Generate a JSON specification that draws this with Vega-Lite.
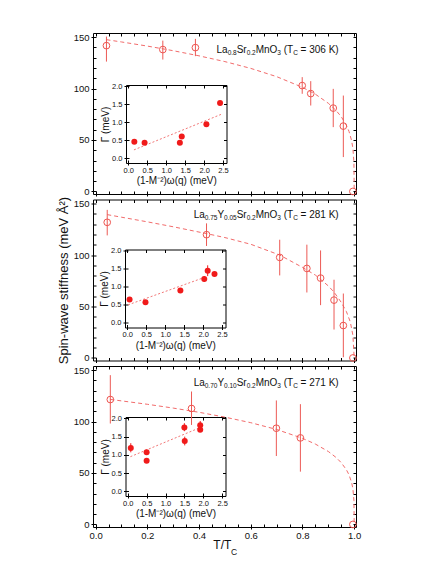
{
  "$schema": "https://vega.github.io/schema/vega-lite/v6.json",
  "padding": {"left": 57, "top": 29, "right": 10, "bottom": 2},
  "spacing": 5.5,
  "bounds": "flush",
  "config": {
    "view": {"stroke": null},
    "axis": {"grid": false, "domainColor": "#000", "tickColor": "#000", "labelColor": "#111", "titleColor": "#111", "labelFont": "Liberation Sans", "titleFont": "Liberation Sans", "titleFontWeight": "normal", "labelFontSize": 9.5, "minExtent": 0, "labelFlush": false, "domainWidth": 1, "tickWidth": 1},
    "text": {"font": "Liberation Sans"}
  },
  "datasets": {
    "main": [
      {"panel": "a", "t": 0.042, "D": 141.7, "lo": 126.2, "hi": 150.5},
      {"panel": "a", "t": 0.26, "D": 137.9, "lo": 128.2, "hi": 146.6},
      {"panel": "a", "t": 0.386, "D": 139.8, "lo": 131.5, "hi": 148.3},
      {"panel": "a", "t": 0.799, "D": 102.9, "lo": 94.9, "hi": 111.1},
      {"panel": "a", "t": 0.832, "D": 95.1, "lo": 83.5, "hi": 107.2},
      {"panel": "a", "t": 0.919, "D": 81.0, "lo": 62.5, "hi": 99.7},
      {"panel": "a", "t": 0.958, "D": 63.5, "lo": 33.4, "hi": 93.2},
      {"panel": "a", "t": 0.995, "D": 0, "lo": null, "hi": null},
      {"panel": "b", "t": 0.045, "D": 131.8, "lo": 119.1, "hi": 143.9},
      {"panel": "b", "t": 0.429, "D": 119.8, "lo": 108.8, "hi": 130.8},
      {"panel": "b", "t": 0.712, "D": 97.7, "lo": 80.2, "hi": 114.9},
      {"panel": "b", "t": 0.817, "D": 87.0, "lo": 63.6, "hi": 110.1},
      {"panel": "b", "t": 0.87, "D": 77.6, "lo": 51.3, "hi": 104.5},
      {"panel": "b", "t": 0.922, "D": 56.2, "lo": 27.6, "hi": 76.0},
      {"panel": "b", "t": 0.958, "D": 31.5, "lo": 0.7, "hi": 62.6},
      {"panel": "b", "t": 0.995, "D": 0, "lo": null, "hi": null},
      {"panel": "c", "t": 0.057, "D": 121.4, "lo": 98.1, "hi": 145.1},
      {"panel": "c", "t": 0.371, "D": 112.7, "lo": 96.7, "hi": 129.2},
      {"panel": "c", "t": 0.699, "D": 93.5, "lo": 66.5, "hi": 120.5},
      {"panel": "c", "t": 0.792, "D": 84.1, "lo": 51.3, "hi": 116.9},
      {"panel": "c", "t": 0.995, "D": 0, "lo": null, "hi": null}
    ],
    "fit": [
      {"panel": "a", "t": 0.042, "D": 147.5}, {"panel": "a", "t": 0.1, "D": 145.3}, {"panel": "a", "t": 0.2, "D": 141.3},
      {"panel": "a", "t": 0.3, "D": 136.8}, {"panel": "a", "t": 0.4, "D": 131.8}, {"panel": "a", "t": 0.5, "D": 126.2},
      {"panel": "a", "t": 0.6, "D": 119.6}, {"panel": "a", "t": 0.7, "D": 111.6}, {"panel": "a", "t": 0.8, "D": 101.2},
      {"panel": "a", "t": 0.85, "D": 94.5}, {"panel": "a", "t": 0.9, "D": 85.7}, {"panel": "a", "t": 0.93, "D": 78.7},
      {"panel": "a", "t": 0.95, "D": 72.6}, {"panel": "a", "t": 0.97, "D": 64.3}, {"panel": "a", "t": 0.98, "D": 58.3},
      {"panel": "a", "t": 0.99, "D": 49.4}, {"panel": "a", "t": 0.995, "D": 41.8}, {"panel": "a", "t": 0.999, "D": 28.4},
      {"panel": "a", "t": 1.0, "D": 0},
      {"panel": "b", "t": 0.045, "D": 139.3}, {"panel": "b", "t": 0.1, "D": 136.8}, {"panel": "b", "t": 0.2, "D": 132.3},
      {"panel": "b", "t": 0.3, "D": 127.5}, {"panel": "b", "t": 0.43, "D": 120.8}, {"panel": "b", "t": 0.5, "D": 117.0},
      {"panel": "b", "t": 0.6, "D": 110.5}, {"panel": "b", "t": 0.712, "D": 100.0}, {"panel": "b", "t": 0.8, "D": 88.0},
      {"panel": "b", "t": 0.85, "D": 80.5}, {"panel": "b", "t": 0.9, "D": 70.0}, {"panel": "b", "t": 0.922, "D": 64.0},
      {"panel": "b", "t": 0.95, "D": 54.0}, {"panel": "b", "t": 0.97, "D": 45.0}, {"panel": "b", "t": 0.985, "D": 35.0},
      {"panel": "b", "t": 0.995, "D": 22.0}, {"panel": "b", "t": 1.0, "D": 0},
      {"panel": "c", "t": 0.057, "D": 121.5}, {"panel": "c", "t": 0.1, "D": 120.1}, {"panel": "c", "t": 0.2, "D": 116.8},
      {"panel": "c", "t": 0.3, "D": 113.1}, {"panel": "c", "t": 0.4, "D": 109.0}, {"panel": "c", "t": 0.5, "D": 104.3},
      {"panel": "c", "t": 0.6, "D": 98.9}, {"panel": "c", "t": 0.7, "D": 92.3}, {"panel": "c", "t": 0.8, "D": 83.7},
      {"panel": "c", "t": 0.85, "D": 78.1}, {"panel": "c", "t": 0.9, "D": 70.9}, {"panel": "c", "t": 0.93, "D": 65.1},
      {"panel": "c", "t": 0.95, "D": 60.0}, {"panel": "c", "t": 0.97, "D": 53.1}, {"panel": "c", "t": 0.98, "D": 48.2},
      {"panel": "c", "t": 0.99, "D": 40.8}, {"panel": "c", "t": 0.995, "D": 34.6}, {"panel": "c", "t": 0.999, "D": 23.5},
      {"panel": "c", "t": 1.0, "D": 0}
    ],
    "inset": [
      {"panel": "a", "e": 0.16, "g": 0.46, "lo": null, "hi": null},
      {"panel": "a", "e": 0.43, "g": 0.43, "lo": 0.38, "hi": 0.49},
      {"panel": "a", "e": 1.36, "g": 0.43, "lo": null, "hi": null},
      {"panel": "a", "e": 1.41, "g": 0.61, "lo": null, "hi": null},
      {"panel": "a", "e": 2.06, "g": 0.95, "lo": null, "hi": null},
      {"panel": "a", "e": 2.42, "g": 1.54, "lo": null, "hi": null},
      {"panel": "b", "e": 0.06, "g": 0.65, "lo": null, "hi": null},
      {"panel": "b", "e": 0.48, "g": 0.57, "lo": null, "hi": null},
      {"panel": "b", "e": 1.4, "g": 0.9, "lo": null, "hi": null},
      {"panel": "b", "e": 2.03, "g": 1.22, "lo": 1.14, "hi": 1.3},
      {"panel": "b", "e": 2.12, "g": 1.45, "lo": 1.3, "hi": 1.6},
      {"panel": "b", "e": 2.3, "g": 1.36, "lo": null, "hi": null},
      {"panel": "c", "e": 0.08, "g": 1.19, "lo": 1.07, "hi": 1.32},
      {"panel": "c", "e": 0.5, "g": 1.07, "lo": null, "hi": null},
      {"panel": "c", "e": 0.5, "g": 0.84, "lo": null, "hi": null},
      {"panel": "c", "e": 1.5, "g": 1.75, "lo": 1.65, "hi": 1.87},
      {"panel": "c", "e": 1.51, "g": 1.38, "lo": 1.26, "hi": 1.5},
      {"panel": "c", "e": 1.92, "g": 1.81, "lo": 1.7, "hi": 1.93},
      {"panel": "c", "e": 1.92, "g": 1.69, "lo": null, "hi": null}
    ],
    "ifit": [
      {"panel": "a", "e": 0.15, "g": 0.235}, {"panel": "a", "e": 2.45, "g": 1.224},
      {"panel": "b", "e": 0.02, "g": 0.5}, {"panel": "b", "e": 2.08, "g": 1.28},
      {"panel": "c", "e": 0.07, "g": 0.95}, {"panel": "c", "e": 1.92, "g": 1.75}
    ],
    "lab": [
      {"panel": "a", "kind": "main", "x": 0.4678, "y": 137, "s": "La"},
      {"panel": "a", "kind": "sub", "x": 0.5107, "y": 137, "s": "0.8"},
      {"panel": "a", "kind": "main", "x": 0.5456, "y": 137, "s": "Sr"},
      {"panel": "a", "kind": "sub", "x": 0.5842, "y": 137, "s": "0.2"},
      {"panel": "a", "kind": "main", "x": 0.6192, "y": 137, "s": "MnO"},
      {"panel": "a", "kind": "sub", "x": 0.7028, "y": 137, "s": "3"},
      {"panel": "a", "kind": "main", "x": 0.7275, "y": 137, "s": "(T"},
      {"panel": "a", "kind": "sub", "x": 0.7639, "y": 137, "s": "C"},
      {"panel": "a", "kind": "main", "x": 0.7928, "y": 137, "s": "= 306 K)"},
      {"panel": "b", "kind": "main", "x": 0.3792, "y": 138.5, "s": "La"},
      {"panel": "b", "kind": "sub", "x": 0.4221, "y": 138.5, "s": "0.75"},
      {"panel": "b", "kind": "main", "x": 0.471, "y": 138.5, "s": "Y"},
      {"panel": "b", "kind": "sub", "x": 0.4967, "y": 138.5, "s": "0.05"},
      {"panel": "b", "kind": "main", "x": 0.5456, "y": 138.5, "s": "Sr"},
      {"panel": "b", "kind": "sub", "x": 0.5842, "y": 138.5, "s": "0.2"},
      {"panel": "b", "kind": "main", "x": 0.6191, "y": 138.5, "s": "MnO"},
      {"panel": "b", "kind": "sub", "x": 0.7027, "y": 138.5, "s": "3"},
      {"panel": "b", "kind": "main", "x": 0.7274, "y": 138.5, "s": "(T"},
      {"panel": "b", "kind": "sub", "x": 0.7639, "y": 138.5, "s": "C"},
      {"panel": "b", "kind": "main", "x": 0.7927, "y": 138.5, "s": "= 281 K)"},
      {"panel": "c", "kind": "main", "x": 0.3792, "y": 137, "s": "La"},
      {"panel": "c", "kind": "sub", "x": 0.4221, "y": 137, "s": "0.70"},
      {"panel": "c", "kind": "main", "x": 0.471, "y": 137, "s": "Y"},
      {"panel": "c", "kind": "sub", "x": 0.4967, "y": 137, "s": "0.10"},
      {"panel": "c", "kind": "main", "x": 0.5456, "y": 137, "s": "Sr"},
      {"panel": "c", "kind": "sub", "x": 0.5842, "y": 137, "s": "0.2"},
      {"panel": "c", "kind": "main", "x": 0.6191, "y": 137, "s": "MnO"},
      {"panel": "c", "kind": "sub", "x": 0.7027, "y": 137, "s": "3"},
      {"panel": "c", "kind": "main", "x": 0.7274, "y": 137, "s": "(T"},
      {"panel": "c", "kind": "sub", "x": 0.7639, "y": 137, "s": "C"},
      {"panel": "c", "kind": "main", "x": 0.7927, "y": 137, "s": "= 271 K)"},
      {"panel": "c", "kind": "xsub", "x": 0.524, "y": -27, "s": "C"}
    ]
  },
  "vconcat": [
    {
      "width": 263, "height": 161,
      "resolve": {"scale": {"x": "independent", "y": "independent"}, "axis": {"x": "independent", "y": "independent"}},
      "layer": [
        {"data": {"name": "fit"}, "transform": [{"filter": "datum.panel == 'a'"}],
         "mark": {"type": "line", "color": "#f26b6b", "strokeWidth": 1, "strokeDash": [4, 3]},
         "encoding": {
           "x": {"field": "t", "type": "quantitative", "scale": {"domain": [-0.01, 1.007], "nice": false, "zero": false},
                 "axis": {"orient": "bottom", "values": [0, 0.2, 0.4, 0.6, 0.8, 1], "labels": false, "tickSize": 2, "title": null}},
           "y": {"field": "D", "type": "quantitative", "scale": {"domain": [-2.5, 154], "nice": false, "zero": false},
                 "axis": {"orient": "left", "values": [0, 50, 100, 150], "tickSize": 2, "labelPadding": 2, "title": "Spin-wave stiffness (meV Å²)", "titleFontSize": 13, "titlePadding": 3, "titleOpacity": 0}}
         }},
        {"data": {"name": "main"}, "transform": [{"filter": "datum.panel == 'a'"}],
         "mark": {"type": "rule", "color": "#ec5a55", "strokeWidth": 1},
         "encoding": {
           "x": {"field": "t", "type": "quantitative", "scale": {"domain": [-0.01, 1.007], "nice": false, "zero": false},
                 "axis": {"orient": "bottom", "values": [0, 0.05, 0.1, 0.15, 0.2, 0.25, 0.3, 0.35, 0.4, 0.45, 0.5, 0.55, 0.6, 0.65, 0.7, 0.75, 0.8, 0.85, 0.9, 0.95, 1], "tickSize": -3, "labels": false, "domain": false, "title": null}},
           "y": {"field": "lo", "type": "quantitative", "scale": {"domain": [-2.5, 154], "nice": false, "zero": false},
                 "axis": {"orient": "left", "values": [0, 10, 20, 30, 40, 50, 60, 70, 80, 90, 100, 110, 120, 130, 140, 150], "tickSize": -3, "labels": false, "domain": false, "title": null}},
           "y2": {"field": "hi"}
         }},
        {"data": {"name": "main"}, "transform": [{"filter": "datum.panel == 'a'"}],
         "mark": {"type": "point", "shape": "circle", "filled": false, "color": "#ee5550", "size": 45, "strokeWidth": 1, "opacity": 1},
         "encoding": {
           "x": {"field": "t", "type": "quantitative", "scale": {"domain": [-0.01, 1.007], "nice": false, "zero": false},
                 "axis": {"orient": "top", "values": [0, 0.05, 0.1, 0.15, 0.2, 0.25, 0.3, 0.35, 0.4, 0.45, 0.5, 0.55, 0.6, 0.65, 0.7, 0.75, 0.8, 0.85, 0.9, 0.95, 1], "tickSize": -3, "labels": false, "title": null}},
           "y": {"field": "D", "type": "quantitative", "scale": {"domain": [-2.5, 154], "nice": false, "zero": false},
                 "axis": {"orient": "right", "values": [0, 10, 20, 30, 40, 50, 60, 70, 80, 90, 100, 110, 120, 130, 140, 150], "tickSize": -3, "labels": false, "title": null}}
         }},
        {"data": {"name": "lab"}, "transform": [{"filter": "datum.panel == 'a' && datum.kind == 'main'"}],
         "mark": {"type": "text", "align": "left", "baseline": "middle", "fontSize": 10, "color": "#111"},
         "encoding": {
           "x": {"field": "x", "type": "quantitative", "scale": {"domain": [-0.01, 1.007], "nice": false, "zero": false}, "axis": null},
           "y": {"field": "y", "type": "quantitative", "scale": {"domain": [-2.5, 154], "nice": false, "zero": false}, "axis": null},
           "text": {"field": "s"}
         }},
        {"data": {"name": "lab"}, "transform": [{"filter": "datum.panel == 'a' && datum.kind == 'sub'"}],
         "mark": {"type": "text", "align": "left", "baseline": "middle", "fontSize": 6.5, "dy": 3, "color": "#111"},
         "encoding": {
           "x": {"field": "x", "type": "quantitative", "scale": {"domain": [-0.01, 1.007], "nice": false, "zero": false}, "axis": null},
           "y": {"field": "y", "type": "quantitative", "scale": {"domain": [-2.5, 154], "nice": false, "zero": false}, "axis": null},
           "text": {"field": "s"}
         }},
        {"data": {"name": "ifit"}, "transform": [{"filter": "datum.panel == 'a'"}],
         "mark": {"type": "line", "color": "#f27777", "strokeWidth": 1, "strokeDash": [2, 2]},
         "encoding": {
           "x": {"field": "e", "type": "quantitative", "scale": {"domain": [-0.06, 2.59], "range": [33, 133.5], "nice": false, "zero": false},
                 "axis": {"orient": "bottom", "offset": -31, "values": [0, 0.5, 1, 1.5, 2, 2.5], "format": ".1f", "tickSize": 2, "labelPadding": 1, "labelFontSize": 7.5, "title": "(1-M⁻²)ω(q) (meV)", "titleFontSize": 10, "titlePadding": 2}},
           "y": {"field": "g", "type": "quantitative", "scale": {"domain": [-0.13, 2.04], "range": [130, 52], "nice": false, "zero": false},
                 "axis": {"orient": "left", "offset": -33, "values": [0, 0.5, 1, 1.5, 2], "format": ".1f", "tickSize": 2, "labelPadding": 2, "labelFontSize": 7.5, "title": "Γ (meV)", "titleFontSize": 10, "titlePadding": 1}}
         }},
        {"data": {"name": "inset"}, "transform": [{"filter": "datum.panel == 'a'"}],
         "mark": {"type": "rule", "color": "#f01a1a", "strokeWidth": 1},
         "encoding": {
           "x": {"field": "e", "type": "quantitative", "scale": {"domain": [-0.06, 2.59], "range": [33, 133.5], "nice": false, "zero": false},
                 "axis": {"orient": "bottom", "offset": -31, "values": [0, 0.5, 1, 1.5, 2, 2.5], "tickSize": -3, "labels": false, "domain": false, "title": null}},
           "y": {"field": "lo", "type": "quantitative", "scale": {"domain": [-0.13, 2.04], "range": [130, 52], "nice": false, "zero": false},
                 "axis": {"orient": "left", "offset": -33, "values": [0, 0.5, 1, 1.5, 2], "tickSize": -3, "labels": false, "domain": false, "title": null}},
           "y2": {"field": "hi"}
         }},
        {"data": {"name": "inset"}, "transform": [{"filter": "datum.panel == 'a'"}],
         "mark": {"type": "point", "shape": "circle", "filled": true, "color": "#f01a1a", "size": 36, "opacity": 1},
         "encoding": {
           "x": {"field": "e", "type": "quantitative", "scale": {"domain": [-0.06, 2.59], "range": [33, 133.5], "nice": false, "zero": false},
                 "axis": {"orient": "top", "offset": -52, "values": [0, 0.5, 1, 1.5, 2, 2.5], "tickSize": -3, "labels": false, "title": null}},
           "y": {"field": "g", "type": "quantitative", "scale": {"domain": [-0.13, 2.04], "range": [130, 52], "nice": false, "zero": false},
                 "axis": {"orient": "right", "offset": -129.5, "values": [0, 0.5, 1, 1.5, 2], "tickSize": -3, "labels": false, "title": null}}
         }}
      ]
    },
    {
      "width": 263, "height": 161,
      "resolve": {"scale": {"x": "independent", "y": "independent"}, "axis": {"x": "independent", "y": "independent"}},
      "layer": [
        {"data": {"name": "fit"}, "transform": [{"filter": "datum.panel == 'b'"}],
         "mark": {"type": "line", "color": "#f26b6b", "strokeWidth": 1, "strokeDash": [4, 3]},
         "encoding": {
           "x": {"field": "t", "type": "quantitative", "scale": {"domain": [-0.01, 1.007], "nice": false, "zero": false},
                 "axis": {"orient": "bottom", "values": [0, 0.2, 0.4, 0.6, 0.8, 1], "labels": false, "tickSize": 2, "title": null}},
           "y": {"field": "D", "type": "quantitative", "scale": {"domain": [-2.5, 154], "nice": false, "zero": false},
                 "axis": {"orient": "left", "values": [0, 50, 100, 150], "tickSize": 2, "labelPadding": 2, "title": "Spin-wave stiffness (meV Å²)", "titleFontSize": 13, "titlePadding": 3}}
         }},
        {"data": {"name": "main"}, "transform": [{"filter": "datum.panel == 'b'"}],
         "mark": {"type": "rule", "color": "#ec5a55", "strokeWidth": 1},
         "encoding": {
           "x": {"field": "t", "type": "quantitative", "scale": {"domain": [-0.01, 1.007], "nice": false, "zero": false},
                 "axis": {"orient": "bottom", "values": [0, 0.05, 0.1, 0.15, 0.2, 0.25, 0.3, 0.35, 0.4, 0.45, 0.5, 0.55, 0.6, 0.65, 0.7, 0.75, 0.8, 0.85, 0.9, 0.95, 1], "tickSize": -3, "labels": false, "domain": false, "title": null}},
           "y": {"field": "lo", "type": "quantitative", "scale": {"domain": [-2.5, 154], "nice": false, "zero": false},
                 "axis": {"orient": "left", "values": [0, 10, 20, 30, 40, 50, 60, 70, 80, 90, 100, 110, 120, 130, 140, 150], "tickSize": -3, "labels": false, "domain": false, "title": null}},
           "y2": {"field": "hi"}
         }},
        {"data": {"name": "main"}, "transform": [{"filter": "datum.panel == 'b'"}],
         "mark": {"type": "point", "shape": "circle", "filled": false, "color": "#ee5550", "size": 45, "strokeWidth": 1, "opacity": 1},
         "encoding": {
           "x": {"field": "t", "type": "quantitative", "scale": {"domain": [-0.01, 1.007], "nice": false, "zero": false},
                 "axis": {"orient": "top", "values": [0, 0.05, 0.1, 0.15, 0.2, 0.25, 0.3, 0.35, 0.4, 0.45, 0.5, 0.55, 0.6, 0.65, 0.7, 0.75, 0.8, 0.85, 0.9, 0.95, 1], "tickSize": -3, "labels": false, "title": null}},
           "y": {"field": "D", "type": "quantitative", "scale": {"domain": [-2.5, 154], "nice": false, "zero": false},
                 "axis": {"orient": "right", "values": [0, 10, 20, 30, 40, 50, 60, 70, 80, 90, 100, 110, 120, 130, 140, 150], "tickSize": -3, "labels": false, "title": null}}
         }},
        {"data": {"name": "lab"}, "transform": [{"filter": "datum.panel == 'b' && datum.kind == 'main'"}],
         "mark": {"type": "text", "align": "left", "baseline": "middle", "fontSize": 10, "color": "#111"},
         "encoding": {
           "x": {"field": "x", "type": "quantitative", "scale": {"domain": [-0.01, 1.007], "nice": false, "zero": false}, "axis": null},
           "y": {"field": "y", "type": "quantitative", "scale": {"domain": [-2.5, 154], "nice": false, "zero": false}, "axis": null},
           "text": {"field": "s"}
         }},
        {"data": {"name": "lab"}, "transform": [{"filter": "datum.panel == 'b' && datum.kind == 'sub'"}],
         "mark": {"type": "text", "align": "left", "baseline": "middle", "fontSize": 6.5, "dy": 3, "color": "#111"},
         "encoding": {
           "x": {"field": "x", "type": "quantitative", "scale": {"domain": [-0.01, 1.007], "nice": false, "zero": false}, "axis": null},
           "y": {"field": "y", "type": "quantitative", "scale": {"domain": [-2.5, 154], "nice": false, "zero": false}, "axis": null},
           "text": {"field": "s"}
         }},
        {"data": {"name": "ifit"}, "transform": [{"filter": "datum.panel == 'b'"}],
         "mark": {"type": "line", "color": "#f27777", "strokeWidth": 1, "strokeDash": [2, 2]},
         "encoding": {
           "x": {"field": "e", "type": "quantitative", "scale": {"domain": [-0.06, 2.59], "range": [32, 132.5], "nice": false, "zero": false},
                 "axis": {"orient": "bottom", "offset": -33, "values": [0, 0.5, 1, 1.5, 2, 2.5], "format": ".1f", "tickSize": 2, "labelPadding": 1, "labelFontSize": 7.5, "title": "(1-M⁻²)ω(q) (meV)", "titleFontSize": 10, "titlePadding": 2}},
           "y": {"field": "g", "type": "quantitative", "scale": {"domain": [-0.13, 2.04], "range": [128, 50], "nice": false, "zero": false},
                 "axis": {"orient": "left", "offset": -32, "values": [0, 0.5, 1, 1.5, 2], "format": ".1f", "tickSize": 2, "labelPadding": 2, "labelFontSize": 7.5, "title": "Γ (meV)", "titleFontSize": 10, "titlePadding": 1}}
         }},
        {"data": {"name": "inset"}, "transform": [{"filter": "datum.panel == 'b'"}],
         "mark": {"type": "rule", "color": "#f01a1a", "strokeWidth": 1},
         "encoding": {
           "x": {"field": "e", "type": "quantitative", "scale": {"domain": [-0.06, 2.59], "range": [32, 132.5], "nice": false, "zero": false},
                 "axis": {"orient": "bottom", "offset": -33, "values": [0, 0.5, 1, 1.5, 2, 2.5], "tickSize": -3, "labels": false, "domain": false, "title": null}},
           "y": {"field": "lo", "type": "quantitative", "scale": {"domain": [-0.13, 2.04], "range": [128, 50], "nice": false, "zero": false},
                 "axis": {"orient": "left", "offset": -32, "values": [0, 0.5, 1, 1.5, 2], "tickSize": -3, "labels": false, "domain": false, "title": null}},
           "y2": {"field": "hi"}
         }},
        {"data": {"name": "inset"}, "transform": [{"filter": "datum.panel == 'b'"}],
         "mark": {"type": "point", "shape": "circle", "filled": true, "color": "#f01a1a", "size": 36, "opacity": 1},
         "encoding": {
           "x": {"field": "e", "type": "quantitative", "scale": {"domain": [-0.06, 2.59], "range": [32, 132.5], "nice": false, "zero": false},
                 "axis": {"orient": "top", "offset": -50, "values": [0, 0.5, 1, 1.5, 2, 2.5], "tickSize": -3, "labels": false, "title": null}},
           "y": {"field": "g", "type": "quantitative", "scale": {"domain": [-0.13, 2.04], "range": [128, 50], "nice": false, "zero": false},
                 "axis": {"orient": "right", "offset": -130.5, "values": [0, 0.5, 1, 1.5, 2], "tickSize": -3, "labels": false, "title": null}}
         }}
      ]
    },
    {
      "width": 263, "height": 161,
      "resolve": {"scale": {"x": "independent", "y": "independent"}, "axis": {"x": "independent", "y": "independent"}},
      "layer": [
        {"data": {"name": "fit"}, "transform": [{"filter": "datum.panel == 'c'"}],
         "mark": {"type": "line", "color": "#f26b6b", "strokeWidth": 1, "strokeDash": [4, 3]},
         "encoding": {
           "x": {"field": "t", "type": "quantitative", "scale": {"domain": [-0.01, 1.007], "nice": false, "zero": false},
                 "axis": {"orient": "bottom", "values": [0, 0.2, 0.4, 0.6, 0.8, 1], "format": ".1f", "tickSize": 2, "labelPadding": 1, "title": "T/T", "titleFontSize": 12, "titlePadding": 0, "titleX": 128.8}},
           "y": {"field": "D", "type": "quantitative", "scale": {"domain": [-2.5, 154], "nice": false, "zero": false},
                 "axis": {"orient": "left", "values": [0, 50, 100, 150], "tickSize": 2, "labelPadding": 2, "title": "Spin-wave stiffness (meV Å²)", "titleFontSize": 13, "titlePadding": 3, "titleOpacity": 0}}
         }},
        {"data": {"name": "main"}, "transform": [{"filter": "datum.panel == 'c'"}],
         "mark": {"type": "rule", "color": "#ec5a55", "strokeWidth": 1},
         "encoding": {
           "x": {"field": "t", "type": "quantitative", "scale": {"domain": [-0.01, 1.007], "nice": false, "zero": false},
                 "axis": {"orient": "bottom", "values": [0, 0.05, 0.1, 0.15, 0.2, 0.25, 0.3, 0.35, 0.4, 0.45, 0.5, 0.55, 0.6, 0.65, 0.7, 0.75, 0.8, 0.85, 0.9, 0.95, 1], "tickSize": -3, "labels": false, "domain": false, "title": null}},
           "y": {"field": "lo", "type": "quantitative", "scale": {"domain": [-2.5, 154], "nice": false, "zero": false},
                 "axis": {"orient": "left", "values": [0, 10, 20, 30, 40, 50, 60, 70, 80, 90, 100, 110, 120, 130, 140, 150], "tickSize": -3, "labels": false, "domain": false, "title": null}},
           "y2": {"field": "hi"}
         }},
        {"data": {"name": "main"}, "transform": [{"filter": "datum.panel == 'c'"}],
         "mark": {"type": "point", "shape": "circle", "filled": false, "color": "#ee5550", "size": 45, "strokeWidth": 1, "opacity": 1},
         "encoding": {
           "x": {"field": "t", "type": "quantitative", "scale": {"domain": [-0.01, 1.007], "nice": false, "zero": false},
                 "axis": {"orient": "top", "values": [0, 0.05, 0.1, 0.15, 0.2, 0.25, 0.3, 0.35, 0.4, 0.45, 0.5, 0.55, 0.6, 0.65, 0.7, 0.75, 0.8, 0.85, 0.9, 0.95, 1], "tickSize": -3, "labels": false, "title": null}},
           "y": {"field": "D", "type": "quantitative", "scale": {"domain": [-2.5, 154], "nice": false, "zero": false},
                 "axis": {"orient": "right", "values": [0, 10, 20, 30, 40, 50, 60, 70, 80, 90, 100, 110, 120, 130, 140, 150], "tickSize": -3, "labels": false, "title": null}}
         }},
        {"data": {"name": "lab"}, "transform": [{"filter": "datum.panel == 'c' && datum.kind == 'main'"}],
         "mark": {"type": "text", "align": "left", "baseline": "middle", "fontSize": 10, "color": "#111"},
         "encoding": {
           "x": {"field": "x", "type": "quantitative", "scale": {"domain": [-0.01, 1.007], "nice": false, "zero": false}, "axis": null},
           "y": {"field": "y", "type": "quantitative", "scale": {"domain": [-2.5, 154], "nice": false, "zero": false}, "axis": null},
           "text": {"field": "s"}
         }},
        {"data": {"name": "lab"}, "transform": [{"filter": "datum.panel == 'c' && datum.kind == 'sub'"}],
         "mark": {"type": "text", "align": "left", "baseline": "middle", "fontSize": 6.5, "dy": 3, "color": "#111"},
         "encoding": {
           "x": {"field": "x", "type": "quantitative", "scale": {"domain": [-0.01, 1.007], "nice": false, "zero": false}, "axis": null},
           "y": {"field": "y", "type": "quantitative", "scale": {"domain": [-2.5, 154], "nice": false, "zero": false}, "axis": null},
           "text": {"field": "s"}
         }},
        {"data": {"name": "lab"}, "transform": [{"filter": "datum.panel == 'c' && datum.kind == 'xsub'"}],
         "mark": {"type": "text", "align": "left", "baseline": "middle", "fontSize": 8.5, "color": "#111"},
         "encoding": {
           "x": {"field": "x", "type": "quantitative", "scale": {"domain": [-0.01, 1.007], "nice": false, "zero": false}, "axis": null},
           "y": {"field": "y", "type": "quantitative", "scale": {"domain": [-2.5, 154], "nice": false, "zero": false}, "axis": null},
           "text": {"field": "s"}
         }},
        {"data": {"name": "ifit"}, "transform": [{"filter": "datum.panel == 'c'"}],
         "mark": {"type": "line", "color": "#f27777", "strokeWidth": 1, "strokeDash": [2, 2]},
         "encoding": {
           "x": {"field": "e", "type": "quantitative", "scale": {"domain": [-0.06, 2.59], "range": [32.5, 132.5], "nice": false, "zero": false},
                 "axis": {"orient": "bottom", "offset": -31, "values": [0, 0.5, 1, 1.5, 2, 2.5], "format": ".1f", "tickSize": 2, "labelPadding": 1, "labelFontSize": 7.5, "title": "(1-M⁻²)ω(q) (meV)", "titleFontSize": 10, "titlePadding": 2}},
           "y": {"field": "g", "type": "quantitative", "scale": {"domain": [-0.13, 2.04], "range": [130, 51], "nice": false, "zero": false},
                 "axis": {"orient": "left", "offset": -32.5, "values": [0, 0.5, 1, 1.5, 2], "format": ".1f", "tickSize": 2, "labelPadding": 2, "labelFontSize": 7.5, "title": "Γ (meV)", "titleFontSize": 10, "titlePadding": 1}}
         }},
        {"data": {"name": "inset"}, "transform": [{"filter": "datum.panel == 'c'"}],
         "mark": {"type": "rule", "color": "#f01a1a", "strokeWidth": 1},
         "encoding": {
           "x": {"field": "e", "type": "quantitative", "scale": {"domain": [-0.06, 2.59], "range": [32.5, 132.5], "nice": false, "zero": false},
                 "axis": {"orient": "bottom", "offset": -31, "values": [0, 0.5, 1, 1.5, 2, 2.5], "tickSize": -3, "labels": false, "domain": false, "title": null}},
           "y": {"field": "lo", "type": "quantitative", "scale": {"domain": [-0.13, 2.04], "range": [130, 51], "nice": false, "zero": false},
                 "axis": {"orient": "left", "offset": -32.5, "values": [0, 0.5, 1, 1.5, 2], "tickSize": -3, "labels": false, "domain": false, "title": null}},
           "y2": {"field": "hi"}
         }},
        {"data": {"name": "inset"}, "transform": [{"filter": "datum.panel == 'c'"}],
         "mark": {"type": "point", "shape": "circle", "filled": true, "color": "#f01a1a", "size": 36, "opacity": 1},
         "encoding": {
           "x": {"field": "e", "type": "quantitative", "scale": {"domain": [-0.06, 2.59], "range": [32.5, 132.5], "nice": false, "zero": false},
                 "axis": {"orient": "top", "offset": -51, "values": [0, 0.5, 1, 1.5, 2, 2.5], "tickSize": -3, "labels": false, "title": null}},
           "y": {"field": "g", "type": "quantitative", "scale": {"domain": [-0.13, 2.04], "range": [130, 51], "nice": false, "zero": false},
                 "axis": {"orient": "right", "offset": -130.5, "values": [0, 0.5, 1, 1.5, 2], "tickSize": -3, "labels": false, "title": null}}
         }}
      ]
    }
  ]
}
